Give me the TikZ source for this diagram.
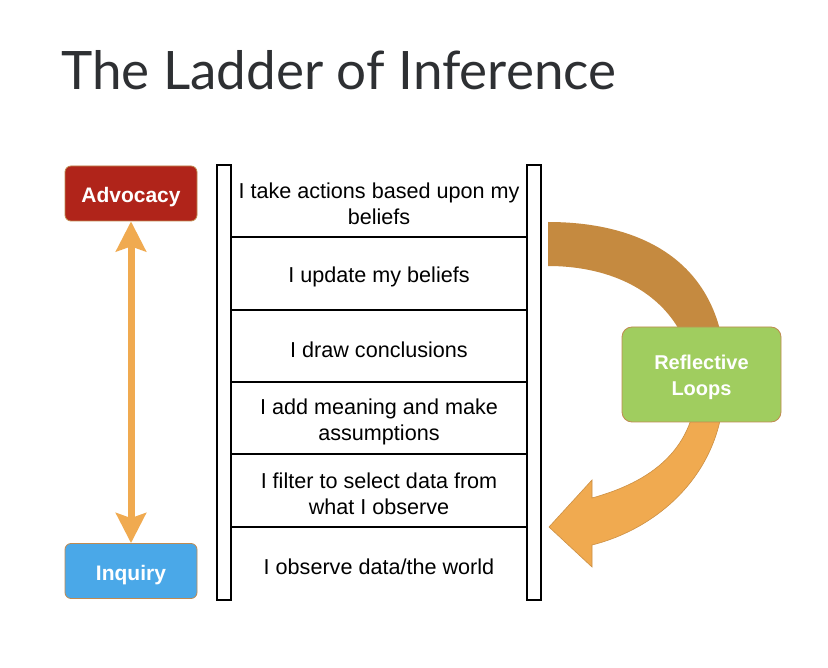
\documentclass[tikz,border=0pt]{standalone}
\usepackage{fontspec}
\setmainfont{Liberation Sans}
\newfontfamily\titlefont{Lato}
\usetikzlibrary{arrows.meta}
\definecolor{advred}{HTML}{B0241A}
\definecolor{inqblue}{HTML}{4AA8E8}
\definecolor{refgreen}{HTML}{A0CD5F}
\definecolor{boxedge}{HTML}{C08A50}
\definecolor{arrorange}{HTML}{F0AA50}
\definecolor{arrbrown}{HTML}{C58A40}
\definecolor{titlegray}{HTML}{2E3033}
\tikzset{
  sidebox/.style={rounded corners=6pt, draw=boxedge, line width=0.8pt, minimum width=132pt, minimum height=55pt, inner sep=0pt},
  boxtext/.style={text=white, align=center, inner sep=0pt, font=\bfseries\fontsize{21}{26}\selectfont},
  rail/.style={draw=black, fill=white, line width=2.5pt},
  rung/.style={draw=black, line width=2.5pt},
  celltext/.style={align=center, font=\fontsize{21.6}{25.5}\selectfont, text=black},
}
\begin{document}
\begin{tikzpicture}[x=1pt,y=-1pt]
\useasboundingbox (0,0) rectangle (828,668);
\fill[white] (0,0) rectangle (828,668);
% title
\node[anchor=base west, inner sep=0pt, text=titlegray, font=\titlefont\fontsize{53}{60}\selectfont] (title) at (61,90) {The Ladder of Inference};
% rails
\draw[rail] (217,165) rectangle (231,600);
\draw[rail] (527,165) rectangle (541,600);
% rungs
\coordinate (l1) at (231,237); \coordinate (r1) at (527,237);
\coordinate (l2) at (231,310); \coordinate (r2) at (527,310);
\coordinate (l3) at (231,382); \coordinate (r3) at (527,382);
\coordinate (l4) at (231,454); \coordinate (r4) at (527,454);
\coordinate (l5) at (231,527); \coordinate (r5) at (527,527);
\foreach \i in {1,...,5} \draw[rung] (l\i) -- (r\i);
% cell texts
\node[celltext] (c1) at (379,204) {I take actions based upon my\\beliefs};
\node[celltext] (c2) at (379,277) {I update my beliefs};
\node[celltext] (c3) at (379,350) {I draw conclusions};
\node[celltext] (c4) at (379,422) {I add meaning and make\\assumptions};
\node[celltext] (c5) at (379,494) {I filter to select data from\\what I observe};
\node[celltext] (c6) at (379,567) {I observe data/the world};
% side boxes
\node[sidebox, fill=advred] (adv) at (131,193.5) {};
\node[boxtext] (advt) at ([yshift=-4pt]adv.center) {Advocacy};
\node[sidebox, fill=inqblue] (inq) at (131,571) {};
\node[boxtext] (inqt) at ([yshift=-4pt]inq.center) {Inquiry};
\draw[arrorange, line width=7pt, {Stealth[length=30pt,width=30pt,inset=5pt]}-{Stealth[length=30pt,width=30pt,inset=5pt]}] (adv.south) -- (inq.north);
% reflective loop arrow
\fill[arrbrown] (548,222) .. controls (642,222) and (726,262) .. (726,380)
  -- (695,380) .. controls (686,300) and (620,266) .. (548,266) -- cycle;
\filldraw[fill=arrorange, draw=arrorange!85!black, line width=0.6pt]
  (724,380) .. controls (726,470) and (660,528) .. (592,545)
  -- (592,567) -- (549,527) -- (592,480) -- (592,498)
  .. controls (650,482) and (697,450) .. (697,380) -- cycle;
\node[rounded corners=10pt, draw=boxedge, line width=0.8pt, fill=refgreen, minimum width=159pt, minimum height=95pt, inner sep=0pt] (refl) at (701.5,374.5) {};
\node[boxtext, font=\bfseries\fontsize{20}{26}\selectfont] (reflt) at ([yshift=-3pt]refl.center) {Reflective\\Loops};
\end{tikzpicture}
\end{document}
